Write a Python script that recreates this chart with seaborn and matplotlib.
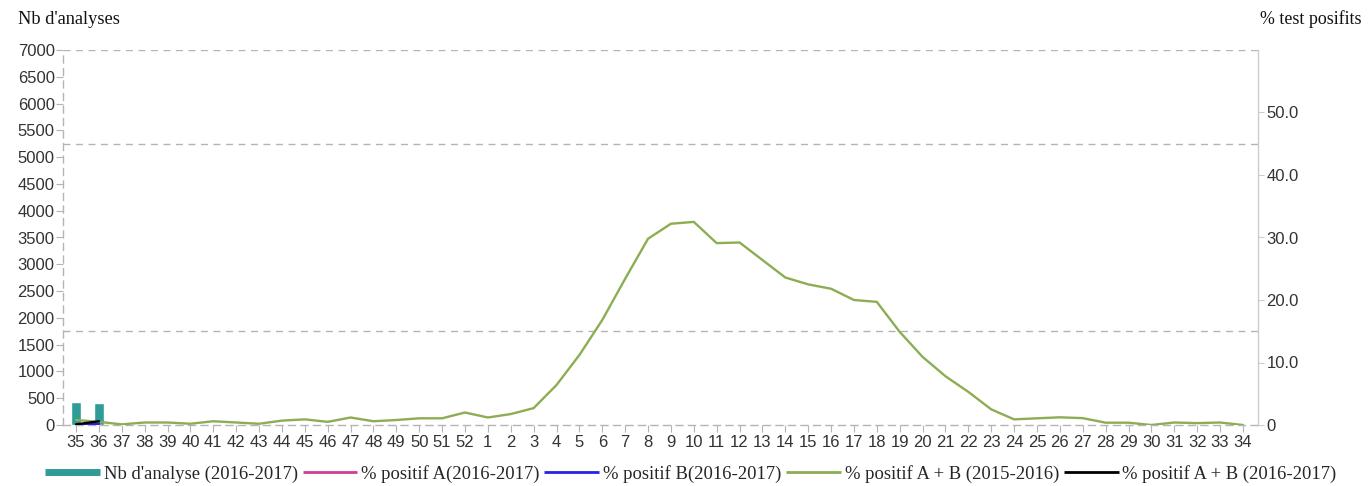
import numpy as np
import pandas as pd
import matplotlib
matplotlib.use("Agg")
import matplotlib.pyplot as plt
import seaborn as sns
from matplotlib.ticker import MultipleLocator, FixedLocator
from matplotlib.lines import Line2D

# ---------------- data ----------------
weeks = [str(w) for w in list(range(35, 53)) + list(range(1, 35))]

bar_weeks = ["35", "36"]
nb_analyses = [435, 405]

pos_A_1617 = [0.0, 0.0]
pos_B_1617 = [0.0, 0.2]
pos_AB_1617 = [0.1, 0.6]

pos_AB_1516 = [0.8, 0.5, 0.1, 0.4, 0.4, 0.2, 0.6, 0.4, 0.2, 0.7, 0.9, 0.5, 1.2, 0.6,
               0.8, 1.07, 1.07, 2.0,
               1.2, 1.75, 2.7, 6.4, 11.2, 16.8, 23.4, 29.8, 32.2, 32.5, 29.1, 29.2,
               26.4, 23.6, 22.5, 21.8, 20.0, 19.7, 14.9, 10.9, 7.8, 5.3, 2.5, 0.9,
               1.07, 1.23, 1.1, 0.37, 0.37, 0.0, 0.4, 0.3, 0.4, 0.0]

left_ticks = list(range(0, 7001, 500))
right_ticks = [0, 10, 20, 30, 40, 50]
right_ticklabels = ["0", "10.0", "20.0", "30.0", "40.0", "50.0"]

legend_labels = ["Nb d'analyse (2016-2017)", "% positif A(2016-2017)",
                 "% positif B(2016-2017)", "% positif A + B (2015-2016)",
                 "% positif A + B (2016-2017)"]

# ---------------- style ----------------
sns.set_style("white")
plt.rcParams['font.family'] = ['Liberation Sans', 'DejaVu Sans']

TEAL = "#2f9c98"
PINK = "#d23c9b"
BLUE = "#2424e8"
GREEN = "#8cad52"
BLACK = "#000000"
GRID = "#b4b4b4"
TXT = "#333333"

fig = plt.figure(figsize=(13.68, 4.86), dpi=100)
ax = fig.add_axes([63 / 1368, 61 / 486, (1258 - 63) / 1368, (425 - 50) / 486])

df_bars = pd.DataFrame({"week": bar_weeks, "n": nb_analyses})
sns.barplot(data=df_bars, x="week", y="n", order=weeks, ax=ax, color=TEAL,
            width=0.47, saturation=1)

ax.set_ylim(0, 7000)
ax.set_xlim(-0.57, 51.66)
ax.yaxis.set_major_locator(FixedLocator(left_ticks))
ax.set_xlabel("")
ax.set_ylabel("")
ax.tick_params(axis="y", length=5, width=0.8, color=GRID, labelsize=12,
               labelcolor=TXT, pad=1, left=True)
ax.tick_params(axis="x", length=5, width=0.8, color=GRID, labelsize=12,
               labelcolor=TXT, pad=2, bottom=True)
for s in ["top", "right"]:
    ax.spines[s].set_visible(False)
for s in ["left", "bottom"]:
    ax.spines[s].set_linestyle((0, (5, 4)))
    ax.spines[s].set_color(GRID)
    ax.spines[s].set_linewidth(1.0)

ax2 = ax.twinx()
x_all = np.arange(len(weeks))
x_two = np.arange(len(bar_weeks))
sns.lineplot(x=x_all, y=pos_AB_1516, ax=ax2, color=GREEN, lw=1.7)
sns.lineplot(x=x_two, y=pos_A_1617, ax=ax2, color=PINK, lw=1.7)
sns.lineplot(x=x_two, y=pos_B_1617, ax=ax2, color=BLUE, lw=1.7)
sns.lineplot(x=x_two, y=pos_AB_1617, ax=ax2, color=BLACK, lw=1.7)
ax2.set_ylim(0, 60)
ax2.set_xlim(-0.57, 51.66)
ax2.yaxis.set_major_locator(FixedLocator(right_ticks))
ax2.set_yticklabels(right_ticklabels)
ax2.yaxis.set_minor_locator(MultipleLocator(15))
ax2.grid(which="minor", axis="y", color=GRID, linestyle=(0, (5, 4)), lw=1.0)
ax2.grid(which="major", visible=False)
ax2.tick_params(axis="y", which="major", length=4, width=0.8, color="#cccccc",
                labelsize=12, labelcolor=TXT, pad=2, right=True)
ax2.tick_params(axis="y", which="minor", length=0)
ax2.set_ylabel("")
for s in ["top", "left", "bottom"]:
    ax2.spines[s].set_visible(False)
ax2.spines["right"].set_color("#cccccc")
ax2.spines["right"].set_linewidth(1.0)
ax2.set_axisbelow(True)

fig.text(18 / 1368, 1 - 19 / 486, "Nb d'analyses", family="Liberation Serif",
         fontsize=13.2, color="#111111", va="center", ha="left")
fig.text(1362 / 1368, 1 - 19 / 486, "% test posifits", family="Liberation Serif",
         fontsize=12.9, color="#111111", va="center", ha="right")

handles = [Line2D([], [], color=TEAL, lw=5, solid_capstyle="butt"),
           Line2D([], [], color=PINK, lw=2, solid_capstyle="butt"),
           Line2D([], [], color=BLUE, lw=2, solid_capstyle="butt"),
           Line2D([], [], color=GREEN, lw=2, solid_capstyle="butt"),
           Line2D([], [], color=BLACK, lw=2, solid_capstyle="butt")]
fig.legend(handles, legend_labels, loc="center", bbox_to_anchor=(0.505, 0.025),
           ncol=5, frameon=False, handlelength=2.95, handletextpad=0.2,
           columnspacing=0.25, prop={"family": "Liberation Serif", "size": 13.4})

fig.savefig("out.png", dpi=100)
